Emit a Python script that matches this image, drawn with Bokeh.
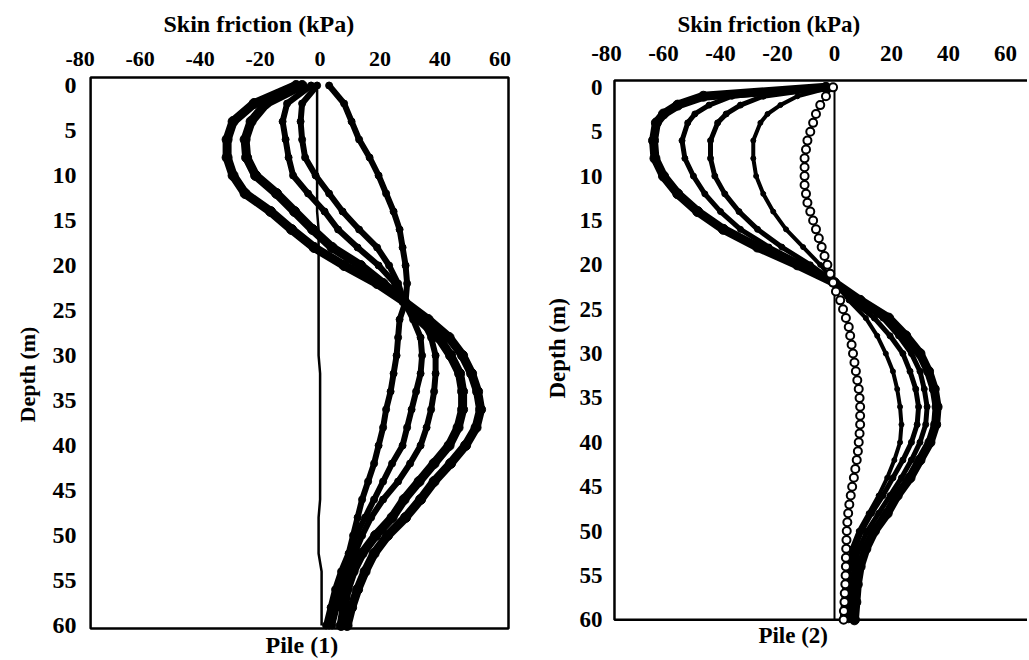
from bokeh.plotting import figure
from bokeh.layouts import row
from bokeh.models import Range1d, FixedTicker, Title, PrintfTickFormatter
from bokeh.embed import file_html
from bokeh.resources import INLINE
from bokeh.core.properties import value

# ---------------- data ----------------
X_TICKS = [-80, -60, -40, -20, 0, 20, 40, 60]
Y_TICKS = [0, 5, 10, 15, 20, 25, 30, 35, 40, 45, 50, 55, 60]

# Pile (1): depth (m) and skin friction (kPa)
DEPTH_1 = [0, 2, 4, 6, 8, 10, 12, 14, 16, 18, 20, 22, 24, 26, 28, 30,
           32, 34, 36, 38, 40, 42, 44, 46, 48, 50, 52, 54, 56, 58, 60]
P1_ZERO = [-1, -1, -1, -1, -1, -1, -1, -1, -0.5, -0.5, -0.5, -0.5, -0.5, -0.5, -0.5, -0.5,
           0, 0, 0, 0, 0, 0, 0, 0, -0.5, -0.5, -0.5, 0.5, 0.5, 0.5, 0.5]
P1_R = [3, 8, 10.5, 13, 16.5, 19.5, 22, 24.5, 26.5, 27.5, 28.5, 29, 28.5, 26.5, 26, 25.5,
        24.5, 23.5, 22, 21, 19.5, 18, 16, 14, 12.5, 11, 9.5, 7, 5, 3.5, 2]
P1_C1 = [-8, -22, -29, -31, -31, -29, -25, -16.5, -9.5, -2, 8, 19, 28, 36, 43, 47.5,
         50.5, 52.5, 53.5, 52, 48.5, 43.5, 38, 33.5, 28.5, 22.5, 18, 15, 12.5, 10.5, 9]
P1_C2 = [-6, -18, -23, -25, -24.5, -21.5, -14.5, -8.5, -2.5, 4, 13.5, 21, 28, 33, 39.5, 43.5,
         46.5, 47.5, 47.5, 46, 43, 38, 33, 28, 24, 18.5, 14, 11, 9, 8, 7]
P1_C3 = [-3, -11, -12.5, -11.5, -10.5, -9, -4, 1.5, 6, 12.5, 19.5, 25, 28, 34, 37, 38.5,
         38.5, 38, 37, 35.5, 33.5, 30, 26, 21, 17, 14, 11.5, 9.5, 7.5, 5.5, 4]
P1_C4 = [-1, -6, -6.5, -6, -5, -1.5, 3, 7.5, 13, 19, 23, 26, 28, 31, 33.5, 34,
         33.5, 32, 30.5, 29, 27.5, 24, 21, 18, 15, 12, 10, 8, 6, 4, 3]

# Pile (2)
DEPTH_2 = [0, 1, 2, 3, 4, 6, 8, 10, 12, 14, 16, 18, 20, 22, 24, 26, 28, 30,
           32, 34, 36, 38, 40, 42, 44, 46, 48, 50, 52, 54, 56, 58, 60]
P2_A = [-3, -46, -55, -60, -62.5, -63.5, -63, -60, -55, -48, -39, -27, -13, 0, 9, 19, 25, 30,
        33, 35, 36, 35.5, 33.5, 30, 26.5, 22, 18.5, 14, 11, 9, 8, 7.5, 7]
P2_B = [-3, -36, -44, -49, -51.5, -53.5, -52.5, -49.5, -45.5, -40, -33, -23, -11, 0, 8, 17, 22.5, 27,
        30, 31.5, 32.5, 32, 30, 27, 23.5, 19.5, 15.5, 11.5, 8.5, 7, 6, 5.5, 5]
P2_C = [-2, -25, -33, -38, -41, -43.5, -43.5, -42, -38.5, -33.5, -27, -18.5, -8.5, 0, 6, 14, 19.5, 24,
        26.5, 28.5, 29.5, 29, 27, 24, 20.5, 17, 13, 9.5, 7, 5.5, 4.5, 4, 3.5]
P2_D = [-1, -13, -19, -23.5, -26, -28.5, -28.5, -27.5, -25, -21.5, -17, -11, -5, 0, 5, 11, 15, 18,
        20.5, 22, 23, 23.5, 23, 21, 18.5, 15.5, 12, 8.5, 6, 4.5, 3.5, 3, 2.5]
DEPTH_2O = [0, 1, 2, 3, 4, 5, 6, 7, 8, 9, 10, 11, 12, 13, 14, 15, 16, 17, 18, 19, 20,
            21, 22, 23, 24, 25, 26, 27, 28, 29, 30, 31, 32, 33, 34, 35, 36, 37, 38, 39, 40,
            41, 42, 43, 44, 45, 46, 47, 48, 49, 50, 51, 52, 53, 54, 55, 56, 57, 58, 59, 60]
P2_O = [-0.5, -3, -5, -6.5, -7.5, -8.5, -9.5, -10, -10.5, -10.5, -10.5, -10.5, -10, -9.5, -8.5,
        -7.5, -6.5, -5.5, -4.5, -3.5, -2.5, -1.5, -0.5, 0.5, 2, 3, 4, 5, 5.5, 6, 6.5,
        7, 7.5, 8, 8.5, 8.8, 9, 9, 9, 8.8, 8.5, 8.2, 7.8, 7.3, 6.8, 6.2, 5.7, 5.2, 4.8,
        4.5, 4.3, 4.2, 4.1, 4, 4, 3.9, 3.8, 3.6, 3.5, 3.3, 3.2]
DEPTH_2Z = [0, 60]
P2_ZERO = [0, 0]

X_TITLE = "Skin friction (kPa)"
Y_TITLE = "Depth (m)"
PANEL_NAMES = ["Pile (1)", "Pile (2)"]

FONT = "Liberation Serif"
FIG_H = 658


def make_panel(width, x_range, y_range, borders, tick_px, ytick_px, x_standoff):
    left, right, top = borders
    p = figure(width=width, height=FIG_H, x_range=Range1d(*x_range), y_range=Range1d(*y_range),
               x_axis_location="above", output_backend="svg", toolbar_location=None,
               min_border_left=left, min_border_right=right,
               min_border_top=top, min_border_bottom=0,
               background_fill_color="white", border_fill_color="white")
    p.outline_line_color = None
    p.grid.visible = False
    p.xaxis.ticker = FixedTicker(ticks=X_TICKS)
    p.yaxis.ticker = FixedTicker(ticks=Y_TICKS)
    p.xaxis.formatter = PrintfTickFormatter(format="%d")
    p.yaxis.formatter = PrintfTickFormatter(format="%d")
    for ax, size in ((p.xaxis[0], tick_px), (p.yaxis[0], ytick_px)):
        ax.axis_line_color = None
        ax.major_tick_line_color = None
        ax.minor_tick_line_color = None
        ax.major_tick_in = 0
        ax.major_tick_out = 0
        ax.minor_tick_in = 0
        ax.minor_tick_out = 0
        ax.major_label_text_font = FONT
        ax.major_label_text_font_style = "bold"
        ax.major_label_text_font_size = size
        ax.major_label_text_color = "black"
    p.xaxis.major_label_standoff = x_standoff
    p.yaxis.major_label_standoff = 3
    return p


def add_titles(p, top_offset, top_size, top_standoff, left_offset, left_size, left_standoff):
    p.add_layout(Title(text=X_TITLE, align="left", offset=top_offset, vertical_align="top",
                       standoff=top_standoff, text_font=FONT, text_font_style="bold",
                       text_font_size=top_size, text_color="black"), "above")
    p.add_layout(Title(text=Y_TITLE, align="left", offset=left_offset, vertical_align="top",
                       standoff=left_standoff, text_font=FONT, text_font_style="bold",
                       text_font_size=left_size, text_color="black"), "left")


def curve(p, xs, ys, width, msize):
    p.line(xs, ys, line_color="black", line_width=width, line_join="round", line_cap="round")
    p.scatter(xs, ys, marker="circle", size=msize, fill_color="black", line_color="black")


# ---------------- Pile (1) ----------------
p1 = make_panel(538, (-80.2, 63.8), (63.67, -1.667), (79, 27, 70), "22px", "24px", 5)
p1.quad(left=-76.5, right=62.8, top=-0.89, bottom=60.33, fill_color=None,
        line_color="black", line_width=2.5)
p1.line(P1_ZERO, DEPTH_1, line_color="black", line_width=2.5)
curve(p1, P1_R, DEPTH_1, 6, 7)
curve(p1, P1_C4, DEPTH_1, 6, 7)
curve(p1, P1_C3, DEPTH_1, 6, 7)
curve(p1, P1_C2, DEPTH_1, 9, 10)
curve(p1, P1_C1, DEPTH_1, 9, 10)
p1.text(x=[-18.2], y=[62.2], text=[PANEL_NAMES[0]], text_font=value(FONT),
        text_font_style="bold", text_font_size="24px", text_color="black",
        text_align="left", text_baseline="middle")
add_titles(p1, 84, "24px", 20, 236, "22px", 16)

# ---------------- Pile (2) ----------------
p2 = make_panel(489, (-80.35, 67.72), (64.36, -1.9), (67, 0, 65), "23px", "23px", 10)
p2.quad(left=-77.2, right=80, top=-0.78, bottom=60, fill_color=None,
        line_color="black", line_width=2.5)
p2.line(P2_ZERO, DEPTH_2Z, line_color="black", line_width=2)
curve(p2, P2_D, DEPTH_2, 4, 5)
curve(p2, P2_C, DEPTH_2, 5, 6)
curve(p2, P2_B, DEPTH_2, 5, 6)
curve(p2, P2_A, DEPTH_2, 9, 10)
p2.line(P2_O, DEPTH_2O, line_color="black", line_width=2)
p2.scatter(P2_O, DEPTH_2O, marker="circle", size=8, fill_color="white",
           line_color="black", line_width=2)
p2.text(x=[-26.7], y=[61.8], text=[PANEL_NAMES[1]], text_font=value(FONT),
        text_font_style="bold", text_font_size="23px", text_color="black",
        text_align="left", text_baseline="middle")
add_titles(p2, 72, "23px", 8, 260, "23px", 10)

layout = row(p1, p2)
open("out.html", "w").write(file_html(layout, INLINE))
